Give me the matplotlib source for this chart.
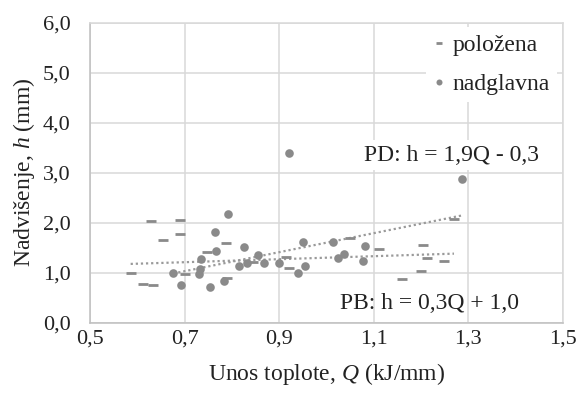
import numpy as np
import matplotlib
matplotlib.use("Agg")
import matplotlib.pyplot as plt

plt.rcParams['font.family'] = ['Liberation Serif', 'DejaVu Serif']
plt.rcParams['mathtext.fontset'] = 'custom'
plt.rcParams['mathtext.rm'] = 'Liberation Serif'
plt.rcParams['mathtext.it'] = 'Liberation Serif:italic'

# položena (dash markers)
q_pol = [0.586, 0.613, 0.634, 0.628, 0.655, 0.690, 0.690, 0.701, 0.747, 0.788,
         0.789, 0.845, 0.915, 0.920, 1.049, 1.112, 1.160, 1.201, 1.205, 1.212,
         1.248, 1.270]
h_pol = [0.99, 0.77, 0.75, 2.04, 1.65, 2.05, 1.77, 0.97, 1.42, 1.60,
         0.89, 1.22, 1.32, 1.09, 1.69, 1.47, 0.87, 1.04, 1.55, 1.30,
         1.23, 2.07]

# nadglavna (circle markers)
q_nad = [0.676, 0.693, 0.731, 0.733, 0.735, 0.754, 0.765, 0.767, 0.783, 0.792,
         0.816, 0.825, 0.832, 0.856, 0.869, 0.899, 0.922, 0.940, 0.951, 0.955,
         1.015, 1.025, 1.038, 1.077, 1.082, 1.288]
h_nad = [0.99, 0.75, 0.97, 1.07, 1.27, 0.72, 1.82, 1.43, 0.83, 2.17,
         1.14, 1.52, 1.19, 1.35, 1.19, 1.19, 3.40, 0.99, 1.61, 1.13,
         1.62, 1.29, 1.37, 1.24, 1.53, 2.87]

# trendline coefficients (slope, intercept) from the labels
pd_coef = [1.9, -0.3]
pb_coef = [0.3, 1.0]

xticks = [0.5, 0.7, 0.9, 1.1, 1.3, 1.5]
xtick_labels = ["0,5", "0,7", "0,9", "1,1", "1,3", "1,5"]
yticks = [0, 1, 2, 3, 4, 5, 6]
ytick_labels = ["0,0", "1,0", "2,0", "3,0", "4,0", "5,0", "6,0"]

grey = "#8a8a8a"
gridc = "#d9d9d9"
txtc = "#222222"
fs_lab = 17
fs_tick = 16

fig = plt.figure(figsize=(5.81, 3.94), dpi=100)
ax = fig.add_axes([90/581, 1-322.7/394, 472.7/581, 300/394])

ax.plot(q_pol, h_pol, linestyle='none', marker='_', markersize=7,
        markeredgewidth=2, color=grey, label="položena", zorder=3)
ax.plot(q_nad, h_nad, linestyle='none', marker='o', markersize=6.2,
        markeredgewidth=0, color=grey, label="nadglavna", zorder=3)

# trendlines over the data range
xd = np.array([min(q_nad), max(q_nad)])
ax.plot(xd, pd_coef[0]*xd + pd_coef[1], color="#9a9a9a", lw=1.6,
        linestyle=(0, (1, 1.3)), zorder=2)
xb = np.array([min(q_pol), max(q_pol)])
ax.plot(xb, pb_coef[0]*xb + pb_coef[1], color="#9a9a9a", lw=1.6,
        linestyle=(0, (1, 1.3)), zorder=2)

ax.set_xlim(0.5, 1.5)
ax.set_ylim(0, 6)
ax.set_xticks(xticks)
ax.set_xticklabels(xtick_labels)
ax.set_yticks(yticks)
ax.set_yticklabels(ytick_labels)
ax.tick_params(length=0, labelsize=fs_tick, colors=txtc)
ax.tick_params(axis='y', pad=14)
ax.tick_params(axis='x', pad=5)
ax.grid(True, color=gridc, lw=1.1, zorder=0)
ax.set_axisbelow(True)
for s in ax.spines.values():
    s.set_color(gridc)
    s.set_linewidth(1.1)
ax.spines['left'].set_color("#bfbfbf")
ax.spines['bottom'].set_color("#bfbfbf")

ax.set_xlabel("Unos toplote, $Q$ (kJ/mm)", fontsize=fs_lab, color=txtc, labelpad=9)
ax.set_ylabel("Nadvišenje, $h$ (mm)", fontsize=fs_lab, color=txtc, labelpad=4)

ax.text(1.265, 3.35, "PD: h = 1,9Q - 0,3", fontsize=fs_lab, ha='center', va='center',
        color=txtc, bbox=dict(facecolor='white', edgecolor='none', pad=3), zorder=4)
ax.text(1.219, 0.38, "PB: h = 0,3Q + 1,0", fontsize=fs_lab, ha='center', va='center',
        color=txtc, zorder=4)

leg = ax.legend(loc='upper right', bbox_to_anchor=(0.987, 0.985), borderaxespad=0,
                frameon=True, fontsize=fs_lab, markerscale=0.7, handlelength=0.5,
                handletextpad=0.3, labelspacing=0.75, fancybox=False,
                borderpad=0.3)
leg.get_frame().set_edgecolor('none')
leg.get_frame().set_facecolor('white')
leg.get_frame().set_alpha(1)
for t in leg.get_texts():
    t.set_color(txtc)

fig.savefig("out.png", dpi=100)
